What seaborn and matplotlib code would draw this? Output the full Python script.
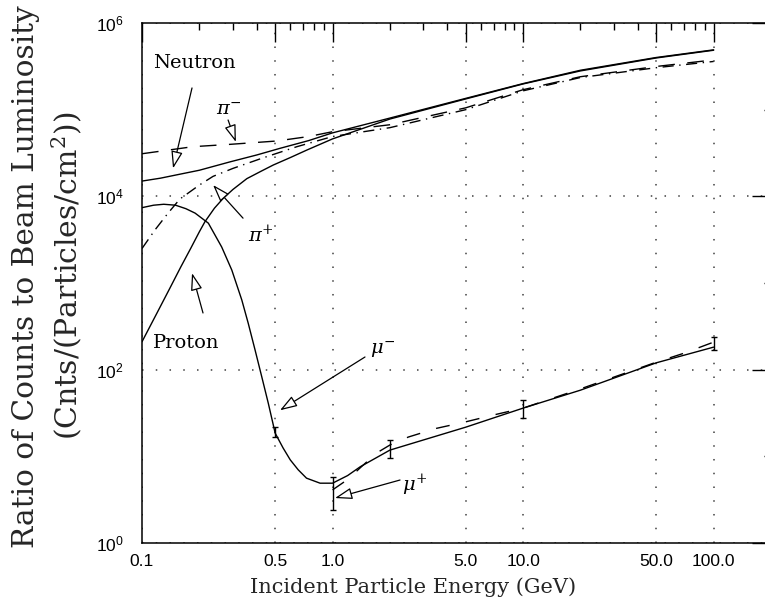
import matplotlib
matplotlib.use("Agg")
import matplotlib.pyplot as plt
import numpy as np
import pandas as pd
import seaborn as sns
from matplotlib.ticker import FixedLocator, FixedFormatter, NullFormatter

# ---------------- data ----------------
neutron_E = [0.1, 0.125, 0.158, 0.2, 0.29, 0.4, 0.53, 0.75, 1.0, 2, 5, 10, 20, 50, 100]
neutron_R = [1.5e4, 1.62e4, 1.8e4, 2.0e4, 2.5e4, 3.0e4, 3.58e4, 4.4e4, 5.4e4, 8.0e4,
             1.35e5, 2.0e5, 2.85e5, 4.0e5, 4.9e5]

proton_E = [0.1, 0.12, 0.14, 0.16, 0.18, 0.2, 0.214, 0.24, 0.267, 0.3, 0.355,
            0.42, 0.489, 0.6, 0.733, 1.0, 2, 5, 10, 20, 50, 100]
proton_R = [210, 453, 870, 1.54e3, 2.5e3, 3.9e3, 5.1e3, 7.3e3, 9.5e3, 1.2e4,
            1.6e4, 1.94e4, 2.3e4, 2.8e4, 3.42e4, 4.6e4, 7.8e4, 1.33e5, 1.98e5,
            2.8e5, 3.95e5, 4.85e5]

piminus_E = [0.1, 0.185, 0.29, 0.51, 0.75, 1.0, 2, 5, 10, 20, 50, 100]
piminus_R = [3.1e4, 3.74e4, 3.98e4, 4.35e4, 4.9e4, 5.57e4, 6.7e4, 1.05e5,
             1.7e5, 2.4e5, 3.15e5, 3.75e5]

piplus_E = [0.1, 0.117, 0.137, 0.158, 0.2, 0.236, 0.3, 0.43, 0.65, 1.0,
            2, 5, 10, 20, 50, 100]
piplus_R = [2.5e3, 4.1e3, 6.4e3, 9.3e3, 1.35e4, 1.7e4, 2.1e4, 2.77e4, 3.74e4,
            4.9e4, 6.2e4, 1.0e5, 1.65e5, 2.35e5, 3.05e5, 3.6e5]

muminus_E = [0.1, 0.115, 0.13, 0.15, 0.17, 0.19, 0.223, 0.262, 0.296, 0.334,
             0.361, 0.392, 0.425, 0.46, 0.5, 0.55, 0.6, 0.66, 0.73, 0.86,
             1.0, 1.2, 1.4, 2, 5, 10, 20, 50, 100]
muminus_R = [7.4e3, 7.9e3, 8.1e3, 7.9e3, 7.2e3, 6.4e3, 4.9e3, 2.6e3, 1.41e3,
             637, 343, 169, 83, 41, 18.5, 12.5, 9.1, 7.0, 5.6, 4.9,
             4.9, 6.0, 7.6, 11.8, 21.7, 36, 58, 120, 182]

muplus_E = [1.0, 1.2, 1.4, 1.7, 2.0, 2.5, 3.5, 5, 7, 10, 20, 50, 70, 100]
muplus_R = [4.1, 5.4, 7.4, 10.9, 13.5, 16.7, 21, 25, 30, 36, 60, 122, 155, 208]

err_E = [0.5, 1.0, 2.0, 10.0, 100.0]
err_R = [19, 4.1, 12, 36, 195]
err_lo = [16.6, 2.4, 9.6, 27.6, 167]
err_hi = [22, 5.8, 15.4, 44.7, 237]

x_ticks = [0.1, 0.5, 1.0, 5.0, 10.0, 50.0, 100.0]
x_ticklabels = ["0.1", "0.5", "1.0", "5.0", "10.0", "50.0", "100.0"]
y_ticks = [1, 1e2, 1e4, 1e6]
y_ticklabels = [r"$\mathregular{10^{0}}$", r"$\mathregular{10^{2}}$",
                r"$\mathregular{10^{4}}$", r"$\mathregular{10^{6}}$"]

series = {
    "Neutron": (neutron_E, neutron_R),
    "Proton": (proton_E, proton_R),
    "pi-": (piminus_E, piminus_R),
    "pi+": (piplus_E, piplus_R),
    "mu-": (muminus_E, muminus_R),
    "mu+": (muplus_E, muplus_R),
}
df = pd.concat([pd.DataFrame({"energy": e, "ratio": r, "particle": k})
                for k, (e, r) in series.items()], ignore_index=True)

# ---------------- style ----------------
sns.set_theme(style="white")
plt.rcParams["font.family"] = ["DejaVu Serif"]
plt.rcParams["mathtext.fontset"] = "dejavuserif"

fig = plt.figure(figsize=(7.65, 6.09), dpi=100)
ax = fig.add_axes([142 / 765, 66 / 609, (771 - 142) / 765, 520 / 609])

palette = {k: "black" for k in series}
dashes = {"Neutron": "", "Proton": "", "mu-": "",
          "pi-": (12, 9), "pi+": (8, 4, 1, 4), "mu+": (10, 12)}
sns.lineplot(data=df, x="energy", y="ratio", hue="particle", style="particle",
             palette=palette, dashes=dashes, linewidth=1.0, legend=False,
             estimator=None, ax=ax)

ax.errorbar(err_E, err_R,
            yerr=[np.array(err_R) - np.array(err_lo), np.array(err_hi) - np.array(err_R)],
            fmt="none", ecolor="black", elinewidth=1.0, capsize=2.2, capthick=1.0)

ax.set_xscale("log")
ax.set_yscale("log")
ax.set_xlim(0.1, 200)
ax.set_ylim(1, 1e6)

ax.xaxis.set_major_locator(FixedLocator(x_ticks))
ax.xaxis.set_major_formatter(FixedFormatter(x_ticklabels))
ax.xaxis.set_minor_locator(FixedLocator([0.2, 0.3, 0.4, 0.6, 0.7, 0.8, 0.9,
                                         2, 3, 4, 6, 7, 8, 9,
                                         20, 30, 40, 60, 70, 80, 90]))
ax.xaxis.set_minor_formatter(NullFormatter())
ax.yaxis.set_major_locator(FixedLocator(y_ticks))
ax.yaxis.set_major_formatter(FixedFormatter(y_ticklabels))
ax.yaxis.set_minor_locator(FixedLocator([10, 1e3, 1e5]))
ax.yaxis.set_minor_formatter(NullFormatter())

ax.tick_params(which="both", direction="in", top=True, right=True,
               color="black", width=1.0)
ax.tick_params(which="major", length=13.5, labelsize=12.5,
               labelcolor="black", labelfontfamily="Liberation Sans")
ax.tick_params(axis="x", which="major", pad=8)
ax.tick_params(axis="y", which="major", pad=13)
ax.tick_params(which="minor", length=5)
for s in ax.spines.values():
    s.set_color("black")
    s.set_linewidth(1.1)

ax.grid(True, which="major", linestyle=(0, (1, 8)), color="0.25", linewidth=1.1)
ax.set_xlabel("")
ax.set_ylabel("")

fig.text(413 / 765, 1 - 587 / 609, "Incident Particle Energy (GeV)",
         ha="center", va="center", fontsize=15)
fig.text(26 / 765, 1 - 277 / 609, "Ratio of Counts to Beam Luminosity",
         ha="center", va="center", rotation=90, fontsize=21.3)
fig.text(67 / 765, 1 - 276 / 609, r"(Cnts/(Particles/cm$^{2}$))",
         ha="center", va="center", rotation=90, fontsize=21.5)

# ---------------- labels & arrows ----------------
txt = dict(fontsize=14, color="black")
ax.text(0.114, 3.5e5, "Neutron", ha="left", va="center", **txt)
ax.text(0.114, 203, "Proton", ha="left", va="center", **txt)
ax.text(0.245, 1.0e5, r"$\pi^{-}$", ha="left", va="center", **txt)
ax.text(0.36, 3.6e3, r"$\pi^{+}$", ha="left", va="center", **txt)
ax.text(1.57, 170, r"$\mu^{-}$", ha="left", va="center", **txt)
ax.text(2.32, 4.7, r"$\mu^{+}$", ha="left", va="center", **txt)

arrow = dict(arrowstyle="-|>,head_length=0.75,head_width=0.25", fc="white",
             ec="black", lw=0.9, shrinkA=0, shrinkB=0, mutation_scale=14)
ann = [((0.1455, 2.1e4), (0.183, 1.78e5)),
       ((0.311, 4.24e4), (0.283, 7.6e4)),
       ((0.236, 1.35e4), (0.339, 5.6e3)),
       ((0.183, 1.3e3), (0.209, 451)),
       ((0.53, 34), (1.48, 140)),
       ((1.03, 3.3), (2.26, 5.33))]
for head, tail in ann:
    ax.annotate("", xy=head, xytext=tail, arrowprops=arrow)

fig.savefig("out.png", dpi=100)
